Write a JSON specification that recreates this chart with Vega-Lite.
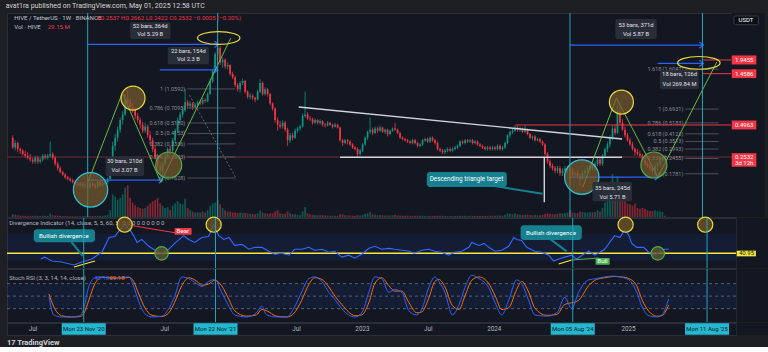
{
"$schema": "https://vega.github.io/schema/vega-lite/v6.json",
"background": "#1e1f23",
"padding": {"left": 5, "top": 2, "right": 0, "bottom": 0},
"title": {"text": "avat1ra published on TradingView.com, May 01, 2025 12:58 UTC", "anchor": "start", "fontSize": 7, "fontWeight": "normal", "color": "#d1d4dc", "font": "Roboto", "offset": 3},
"config": {"view": {"stroke": "#2a2e39", "fill": "#131722"}, "font": "Roboto", "text": {"font": "Roboto"}},
"datasets": {
 "vlines": [{"t":"2020-11-23","txt":"Mon 23 Nov '20"},{"t":"2021-11-22","txt":"Mon 22 Nov '21"},{"t":"2024-08-05","txt":"Mon 05 Aug '24"},{"t":"2025-08-11","txt":"Mon 11 Aug '25"}],
 "rfill": [{"a":"2025-11-01","b":"2026-02-01"}]
},
"spacing": 1,
"bounds": "flush",
"resolve": {"scale": {"x": "independent", "y": "independent"}},
"vconcat": [
{
 "width": 729, "height": 204,
 "data": {"values": "t,o,h,l,c,v\n2020-04-27,.38,.40,.30,.31,60\n2020-05-04,.31,.36,.29,.34,50\n2020-05-11,.34,.35,.28,.30,40\n2020-05-18,.30,.31,.27,.29,30\n2020-05-25,.29,.30,.26,.27,30\n2020-06-01,.27,.29,.25,.26,25\n2020-06-08,.26,.28,.24,.25,25\n2020-06-15,.25,.27,.23,.24,20\n2020-06-22,.24,.25,.22,.23,25\n2020-06-29,.23,.26,.22,.25,30\n2020-07-06,.25,.26,.22,.23,25\n2020-07-13,.23,.25,.22,.24,20\n2020-07-20,.24,.27,.23,.26,30\n2020-07-27,.26,.27,.24,.25,25\n2020-08-03,.25,.27,.24,.26,25\n2020-08-10,.26,.35,.25,.27,80\n2020-08-17,.27,.28,.24,.25,40\n2020-08-24,.25,.26,.21,.22,30\n2020-08-31,.22,.23,.19,.20,30\n2020-09-07,.20,.21,.18,.185,25\n2020-09-14,.185,.19,.17,.175,20\n2020-09-21,.175,.18,.16,.165,20\n2020-09-28,.165,.17,.155,.16,20\n2020-10-05,.16,.165,.15,.155,15\n2020-10-12,.155,.16,.145,.15,15\n2020-10-19,.15,.155,.14,.145,15\n2020-10-26,.145,.15,.135,.14,15\n2020-11-02,.14,.15,.135,.145,15\n2020-11-09,.145,.15,.132,.138,15\n2020-11-16,.138,.145,.13,.14,20\n2020-11-23,.14,.15,.13,.135,25\n2020-11-30,.135,.15,.13,.145,25\n2020-12-07,.145,.15,.135,.14,20\n2020-12-14,.14,.145,.13,.135,20\n2020-12-21,.135,.155,.13,.15,30\n2020-12-28,.15,.155,.135,.14,25\n2021-01-04,.14,.15,.135,.145,30\n2021-01-11,.145,.155,.14,.15,35\n2021-01-18,.15,.165,.145,.16,50\n2021-01-25,.16,.2,.155,.19,150\n2021-02-01,.19,.35,.185,.32,500\n2021-02-08,.32,.41,.29,.38,450\n2021-02-15,.38,.48,.35,.45,380\n2021-02-22,.45,.58,.42,.55,420\n2021-03-01,.55,.66,.5,.62,500\n2021-03-08,.62,.95,.6,.85,650\n2021-03-15,.85,1.02,.76,.8,700\n2021-03-22,.8,.86,.68,.72,420\n2021-03-29,.72,.78,.64,.68,320\n2021-04-05,.68,.72,.56,.6,260\n2021-04-12,.6,.64,.52,.55,220\n2021-04-19,.55,.58,.46,.5,200\n2021-04-26,.5,.53,.42,.44,180\n2021-05-03,.44,.52,.42,.48,200\n2021-05-10,.48,.5,.38,.4,250\n2021-05-17,.4,.44,.33,.36,300\n2021-05-24,.36,.38,.28,.3,350\n2021-05-31,.3,.32,.24,.25,380\n2021-06-07,.25,.27,.2,.21,420\n2021-06-14,.21,.23,.18,.19,300\n2021-06-21,.19,.23,.163,.22,250\n2021-06-28,.22,.27,.21,.26,200\n2021-07-05,.26,.31,.25,.3,220\n2021-07-12,.3,.32,.27,.29,150\n2021-07-19,.29,.38,.28,.36,250\n2021-07-26,.36,.46,.34,.44,300\n2021-08-02,.44,.58,.42,.55,350\n2021-08-09,.55,.65,.52,.62,300\n2021-08-16,.62,.72,.58,.68,280\n2021-08-23,.68,1.06,.65,.8,400\n2021-08-30,.8,.84,.7,.74,200\n2021-09-06,.74,.82,.7,.78,150\n2021-09-13,.78,.8,.68,.72,120\n2021-09-20,.72,.78,.69,.76,100\n2021-09-27,.76,.83,.73,.8,110\n2021-10-04,.8,.84,.75,.78,100\n2021-10-11,.78,.88,.76,.84,120\n2021-10-18,.84,.87,.79,.82,100\n2021-10-25,.82,.98,.8,.95,150\n2021-11-01,.95,1.32,.93,1.25,250\n2021-11-08,1.25,1.62,1.2,1.55,300\n2021-11-15,1.55,2.3,1.5,2.2,320\n2021-11-22,2.2,3.1,2.0,2.5,380\n2021-11-29,2.5,2.6,1.75,1.85,280\n2021-12-06,1.85,2.05,1.65,1.95,200\n2021-12-13,1.95,2.0,1.62,1.7,150\n2021-12-20,1.7,1.85,1.6,1.75,120\n2021-12-27,1.75,1.78,1.4,1.45,120\n2022-01-03,1.45,1.52,1.3,1.35,100\n2022-01-10,1.35,1.4,1.1,1.15,100\n2022-01-17,1.15,1.2,1.0,1.05,90\n2022-01-24,1.05,1.25,.98,1.2,100\n2022-01-31,1.2,1.32,1.15,1.25,90\n2022-02-07,1.25,1.28,.96,1.0,90\n2022-02-14,1.0,1.03,.86,.9,80\n2022-02-21,.9,.97,.85,.92,70\n2022-02-28,.92,.95,.84,.88,70\n2022-03-07,.88,.9,.8,.85,60\n2022-03-14,.85,1.04,.83,1.0,80\n2022-03-21,1.0,1.3,.97,1.2,150\n2022-03-28,1.2,1.24,.92,.95,100\n2022-04-04,.95,1.1,.92,1.05,80\n2022-04-11,1.05,1.08,.9,.95,70\n2022-04-18,.95,.97,.75,.78,80\n2022-04-25,.78,.8,.67,.7,80\n2022-05-02,.7,.72,.52,.55,120\n2022-05-09,.55,.58,.44,.5,150\n2022-05-16,.5,.54,.46,.48,80\n2022-05-23,.48,.55,.46,.52,70\n2022-05-30,.52,.54,.43,.45,70\n2022-06-06,.45,.47,.32,.36,120\n2022-06-13,.36,.42,.34,.4,80\n2022-06-20,.4,.42,.36,.38,60\n2022-06-27,.38,.46,.37,.44,60\n2022-07-04,.44,.48,.42,.46,50\n2022-07-11,.46,.5,.44,.48,50\n2022-07-18,.48,.63,.47,.6,120\n2022-07-25,.6,1.0,.58,.62,220\n2022-08-01,.62,.65,.55,.57,80\n2022-08-08,.57,.6,.54,.56,60\n2022-08-15,.56,.58,.5,.52,50\n2022-08-22,.52,.57,.51,.55,45\n2022-08-29,.55,.56,.5,.52,40\n2022-09-05,.52,.56,.5,.54,40\n2022-09-12,.54,.55,.48,.5,40\n2022-09-19,.5,.52,.47,.49,35\n2022-09-26,.49,.54,.48,.52,35\n2022-10-03,.52,.53,.49,.5,30\n2022-10-10,.5,.51,.46,.48,30\n2022-10-17,.48,.52,.47,.5,30\n2022-10-24,.5,.51,.46,.47,30\n2022-10-31,.47,.48,.35,.36,60\n2022-11-07,.36,.37,.32,.34,60\n2022-11-14,.34,.37,.33,.36,40\n2022-11-21,.36,.37,.33,.35,35\n2022-11-28,.35,.36,.32,.33,35\n2022-12-05,.33,.34,.3,.31,30\n2022-12-12,.31,.32,.29,.3,30\n2022-12-19,.3,.31,.25,.27,40\n2022-12-26,.27,.3,.26,.29,35\n2023-01-02,.29,.34,.28,.33,50\n2023-01-09,.33,.39,.32,.38,70\n2023-01-16,.38,.44,.36,.43,80\n2023-01-23,.43,.58,.41,.45,110\n2023-01-30,.45,.47,.4,.42,60\n2023-02-06,.42,.48,.41,.46,50\n2023-02-13,.46,.48,.42,.44,40\n2023-02-20,.44,.49,.43,.47,45\n2023-02-27,.47,.48,.42,.43,40\n2023-03-06,.43,.46,.41,.45,35\n2023-03-13,.45,.46,.39,.41,35\n2023-03-20,.41,.45,.4,.44,35\n2023-03-27,.44,.47,.43,.46,40\n2023-04-03,.46,.52,.44,.45,50\n2023-04-10,.45,.46,.41,.42,35\n2023-04-17,.42,.43,.37,.38,35\n2023-04-24,.38,.39,.36,.37,30\n2023-05-01,.37,.38,.35,.36,30\n2023-05-08,.36,.37,.34,.35,30\n2023-05-15,.35,.36,.33,.34,25\n2023-05-22,.34,.37,.33,.36,25\n2023-05-29,.36,.37,.33,.34,25\n2023-06-05,.34,.35,.31,.32,30\n2023-06-12,.32,.34,.31,.33,25\n2023-06-19,.33,.37,.32,.36,30\n2023-06-26,.36,.38,.35,.37,30\n2023-07-03,.37,.38,.34,.35,25\n2023-07-10,.35,.39,.34,.38,30\n2023-07-17,.38,.39,.35,.36,25\n2023-07-24,.36,.37,.33,.34,25\n2023-07-31,.34,.35,.29,.3,30\n2023-08-07,.3,.31,.28,.29,25\n2023-08-14,.29,.3,.27,.28,25\n2023-08-21,.28,.3,.27,.29,20\n2023-08-28,.29,.31,.28,.3,20\n2023-09-04,.3,.31,.28,.29,20\n2023-09-11,.29,.31,.28,.3,20\n2023-09-18,.3,.32,.29,.31,20\n2023-09-25,.31,.33,.3,.32,25\n2023-10-02,.32,.36,.31,.35,30\n2023-10-09,.35,.36,.33,.34,25\n2023-10-16,.34,.37,.33,.36,25\n2023-10-23,.36,.37,.34,.35,20\n2023-10-30,.35,.37,.34,.36,25\n2023-11-06,.36,.37,.33,.34,25\n2023-11-13,.34,.36,.33,.35,25\n2023-11-20,.35,.36,.32,.33,25\n2023-11-27,.33,.34,.31,.32,25\n2023-12-04,.32,.33,.3,.31,25\n2023-12-11,.31,.32,.29,.3,25\n2023-12-18,.3,.32,.29,.31,25\n2023-12-25,.31,.32,.29,.3,25\n2024-01-01,.3,.32,.29,.31,30\n2024-01-08,.31,.32,.29,.3,30\n2024-01-15,.3,.33,.29,.32,35\n2024-01-22,.32,.33,.29,.3,35\n2024-01-29,.3,.32,.29,.31,30\n2024-02-05,.31,.35,.3,.34,50\n2024-02-12,.34,.41,.33,.4,80\n2024-02-19,.4,.44,.38,.43,70\n2024-02-26,.43,.46,.41,.44,60\n2024-03-04,.44,.5,.43,.47,80\n2024-03-11,.47,.49,.43,.45,60\n2024-03-18,.45,.48,.43,.46,50\n2024-03-25,.46,.47,.42,.43,45\n2024-04-01,.43,.49,.42,.45,50\n2024-04-08,.45,.46,.4,.41,50\n2024-04-15,.41,.42,.37,.38,45\n2024-04-22,.38,.4,.36,.39,40\n2024-04-29,.39,.4,.35,.36,45\n2024-05-06,.36,.38,.35,.37,40\n2024-05-13,.37,.38,.34,.35,40\n2024-05-20,.35,.36,.32,.33,45\n2024-05-27,.33,.34,.26,.27,70\n2024-06-03,.27,.28,.22,.23,80\n2024-06-10,.23,.24,.2,.21,70\n2024-06-17,.21,.22,.19,.2,60\n2024-06-24,.2,.21,.18,.19,60\n2024-07-01,.19,.21,.18,.2,70\n2024-07-08,.2,.21,.17,.18,80\n2024-07-15,.18,.2,.17,.19,80\n2024-07-22,.19,.21,.18,.2,90\n2024-07-29,.2,.21,.18,.2,100\n2024-08-05,.2,.21,.16,.19,150\n2024-08-12,.19,.2,.17,.175,100\n2024-08-19,.175,.19,.17,.18,90\n2024-08-26,.18,.19,.16,.17,90\n2024-09-02,.17,.18,.14,.16,120\n2024-09-09,.16,.19,.155,.18,110\n2024-09-16,.18,.2,.17,.19,100\n2024-09-23,.19,.21,.18,.2,100\n2024-09-30,.2,.22,.19,.21,110\n2024-10-07,.21,.22,.19,.2,100\n2024-10-14,.2,.23,.19,.22,110\n2024-10-21,.22,.25,.21,.24,150\n2024-10-28,.24,.25,.21,.22,120\n2024-11-04,.22,.27,.21,.26,200\n2024-11-11,.26,.31,.25,.3,320\n2024-11-18,.3,.35,.28,.33,450\n2024-11-25,.33,.4,.31,.38,600\n2024-12-02,.38,.49,.36,.46,950\n2024-12-09,.46,.5,.4,.42,550\n2024-12-16,.42,.75,.41,.66,900\n2024-12-23,.66,.72,.5,.52,750\n2024-12-30,.52,.56,.44,.45,450\n2025-01-06,.45,.48,.38,.4,350\n2025-01-13,.4,.42,.35,.36,300\n2025-01-20,.36,.38,.32,.33,280\n2025-01-27,.33,.35,.29,.3,250\n2025-02-03,.3,.31,.26,.28,300\n2025-02-10,.28,.3,.26,.27,200\n2025-02-17,.27,.29,.25,.26,180\n2025-02-24,.26,.27,.23,.24,200\n2025-03-03,.24,.26,.21,.22,180\n2025-03-10,.22,.23,.2,.21,150\n2025-03-17,.21,.22,.19,.2,130\n2025-03-24,.2,.21,.18,.19,130\n2025-03-31,.19,.22,.178,.21,150\n2025-04-07,.21,.23,.19,.22,130\n2025-04-14,.22,.25,.21,.24,120\n2025-04-21,.24,.26,.23,.2537,110\n2025-04-28,.2537,.2662,.2422,.2532,29", "format": {"type": "csv", "parse": {"t": "date", "o": "number", "h": "number", "l": "number", "c": "number", "v": "number"}}},
 "layer": [
  {"mark": {"type": "bar", "width": 1.7, "opacity": 0.5},
   "encoding": {"x": {"field": "t", "type": "temporal", "scale": {"domain": [1587772800000, 1761782400000]}, "axis": null},
    "y": {"field": "v", "type": "quantitative", "scale": {"domain": [0, 4500]}, "axis": null},
    "color": {"condition": {"test": "datum.c >= datum.o", "value": "#089981"}, "value": "#f23645"}}},
  {"layer": [
   {"data": {"name": "rfill"}, "mark": {"type": "rect", "color": "#131722"},
    "encoding": {"x": {"field": "a", "type": "temporal", "scale": {"domain": [1587772800000, 1761782400000]}, "axis": null}, "x2": {"field": "b"}}},
   {"data": {"values": [{"p": 0.2532}]}, "mark": {"type": "rule", "color": "#6e2b35", "strokeWidth": 1},
    "encoding": {"y": {"field": "p", "type": "quantitative", "scale": {"type": "log", "domain": [0.0718, 5.22]},
     "axis": {"orient": "right", "values": [0.085, 0.12, 0.17, 0.4, 0.55, 0.8, 1.1, 1.7, 2.5, 3.5], "format": ".4f", "grid": false, "ticks": false, "domain": false, "labelColor": "#b2b5be", "labelFontSize": 6.5, "labelFont": "Roboto", "labelPadding": 4, "labelOverlap": false, "labelFlush": false, "title": null, "zindex": 1}}}},
   {"mark": {"type": "rule", "strokeWidth": 0.8},
    "encoding": {"x": {"field": "t", "type": "temporal", "scale": {"domain": [1587772800000, 1761782400000]}, "axis": null},
     "y": {"field": "l", "type": "quantitative", "scale": {"type": "log", "domain": [0.0718, 5.22]}, "axis": null}, "y2": {"field": "h"},
     "color": {"condition": {"test": "datum.c >= datum.o", "value": "#089981"}, "value": "#f23645"}}},
   {"mark": {"type": "bar", "width": 1.7},
    "encoding": {"x": {"field": "t", "type": "temporal", "scale": {"domain": [1587772800000, 1761782400000]}, "axis": null},
     "y": {"field": "o", "type": "quantitative", "scale": {"type": "log", "domain": [0.0718, 5.22]}, "axis": null}, "y2": {"field": "c"},
     "color": {"condition": {"test": "datum.c >= datum.o", "value": "#089981"}, "value": "#f23645"}}},
   {"data": {"values": [
     {"s":"2021-08-29","e":"2022-01-11","p":1.0592,"lab":"1 (1.0592)"},
     {"s":"2021-08-29","e":"2022-01-11","p":0.7095,"lab":"0.786 (0.7095)"},
     {"s":"2021-08-29","e":"2022-01-11","p":0.518,"lab":"0.618 (0.5180)"},
     {"s":"2021-08-29","e":"2022-01-11","p":0.4153,"lab":"0.5 (0.4153)"},
     {"s":"2021-08-29","e":"2022-01-11","p":0.3336,"lab":"0.382 (0.3336)"},
     {"s":"2021-08-29","e":"2022-01-11","p":0.2533,"lab":"0.236 (0.2533)"},
     {"s":"2021-08-29","e":"2022-01-11","p":0.1628,"lab":"0 (0.1628)"},
     {"s":"2025-06-24","e":"2025-09-25","p":1.6047,"lab":"1.618 (1.6047)"},
     {"s":"2025-06-24","e":"2025-09-25","p":0.6931,"lab":"1 (0.6931)"},
     {"s":"2025-06-24","e":"2025-09-25","p":0.5183,"lab":"0.786 (0.5183)"},
     {"s":"2025-06-24","e":"2025-09-25","p":0.4123,"lab":"0.618 (0.4123)"},
     {"s":"2025-06-24","e":"2025-09-25","p":0.3513,"lab":"0.5 (0.3513)"},
     {"s":"2025-06-24","e":"2025-09-25","p":0.2993,"lab":"0.382 (0.2993)"},
     {"s":"2025-06-24","e":"2025-09-25","p":0.2455,"lab":"0.236 (0.2455)"},
     {"s":"2025-06-24","e":"2025-09-25","p":0.1781,"lab":"0 (0.1781)"}]},
    "layer": [
     {"mark": {"type": "rule", "color": "#5d606b", "strokeWidth": 0.8},
      "encoding": {"x": {"field": "s", "type": "temporal", "scale": {"domain": [1587772800000, 1761782400000]}, "axis": null}, "x2": {"field": "e"},
       "y": {"field": "p", "type": "quantitative", "scale": {"type": "log", "domain": [0.0718, 5.22]}, "axis": null}}},
     {"mark": {"type": "text", "align": "right", "baseline": "middle", "dx": -2, "fontSize": 5.5, "color": "#8a8d96"},
      "encoding": {"x": {"field": "s", "type": "temporal", "scale": {"domain": [1587772800000, 1761782400000]}, "axis": null},
       "y": {"field": "p", "type": "quantitative", "scale": {"type": "log", "domain": [0.0718, 5.22]}, "axis": null}, "text": {"field": "lab"}}}
    ]},
   {"data": {"values": [{"s":"2021-09-04","e":"2022-01-11","p1":0.93,"p2":0.166}]},
    "mark": {"type": "rule", "color": "#787b86", "strokeWidth": 0.8, "strokeDash": [2, 2]},
    "encoding": {"x": {"field": "s", "type": "temporal", "scale": {"domain": [1587772800000, 1761782400000]}, "axis": null}, "x2": {"field": "e"},
     "y": {"field": "p1", "type": "quantitative", "scale": {"type": "log", "domain": [0.0718, 5.22]}, "axis": null}, "y2": {"field": "p2"}}},
   {"data": {"values": [{"s":"2024-03-06","e":"2025-10-30","p":0.4963},{"s":"2025-08-11","e":"2025-10-30","p":1.9455},{"s":"2025-08-11","e":"2025-10-30","p":1.4586}]},
    "mark": {"type": "rule", "color": "#f23645", "strokeWidth": 1},
    "encoding": {"x": {"field": "s", "type": "temporal", "scale": {"domain": [1587772800000, 1761782400000]}, "axis": null}, "x2": {"field": "e"},
     "y": {"field": "p", "type": "quantitative", "scale": {"type": "log", "domain": [0.0718, 5.22]}, "axis": null}}},
   {"data": {"values": [{"s":"2022-07-07","e":"2024-12-29","p1":0.724,"p2":0.37},{"s":"2022-10-31","e":"2024-12-29","p1":0.252,"p2":0.252},{"s":"2024-05-25","e":"2024-05-25","p1":0.252,"p2":0.098}]},
    "mark": {"type": "rule", "color": "#d1d4dc", "strokeWidth": 1.4},
    "encoding": {"x": {"field": "s", "type": "temporal", "scale": {"domain": [1587772800000, 1761782400000]}, "axis": null}, "x2": {"field": "e"},
     "y": {"field": "p1", "type": "quantitative", "scale": {"type": "log", "domain": [0.0718, 5.22]}, "axis": null}, "y2": {"field": "p2"}}},
   {"data": {"values": [{"s":"2020-11-23","e":"2021-11-22","p":2.7},{"s":"2021-06-13","e":"2021-11-20","p":1.58},{"s":"2020-11-23","e":"2021-06-19","p":0.156},{"s":"2024-08-05","e":"2025-08-11","p":2.66},{"s":"2025-04-08","e":"2025-08-11","p":1.81},{"s":"2024-08-05","e":"2025-04-08","p":0.166}]},
    "layer": [
     {"mark": {"type": "rule", "color": "#2962ff", "strokeWidth": 1.3},
      "encoding": {"x": {"field": "s", "type": "temporal", "scale": {"domain": [1587772800000, 1761782400000]}, "axis": null}, "x2": {"field": "e"},
       "y": {"field": "p", "type": "quantitative", "scale": {"type": "log", "domain": [0.0718, 5.22]}, "axis": null}}},
     {"mark": {"type": "point", "shape": "M-1,-1L0.3,0L-1,1", "size": 40, "filled": false, "stroke": "#2962ff", "strokeWidth": 1.3, "opacity": 1},
      "encoding": {"x": {"field": "e", "type": "temporal", "scale": {"domain": [1587772800000, 1761782400000]}, "axis": null},
       "y": {"field": "p", "type": "quantitative", "scale": {"type": "log", "domain": [0.0718, 5.22]}, "axis": null}}}
    ]},
   {"data": {"values": [
     {"g":1,"i":1,"t":"2020-11-23","p":0.147},{"g":1,"i":2,"t":"2021-02-28","p":0.972},{"g":1,"i":3,"t":"2021-06-16","p":0.149},{"g":1,"i":4,"t":"2021-12-29","p":3.09},
     {"g":2,"i":1,"t":"2024-09-10","p":0.135},{"g":2,"i":2,"t":"2024-12-13","p":0.875},{"g":2,"i":3,"t":"2025-04-08","p":0.166},{"g":2,"i":4,"t":"2025-09-20","p":1.86}]},
    "mark": {"type": "line", "color": "#66bb44", "strokeWidth": 1},
    "encoding": {"x": {"field": "t", "type": "temporal", "scale": {"domain": [1587772800000, 1761782400000]}, "axis": null},
     "y": {"field": "p", "type": "quantitative", "scale": {"type": "log", "domain": [0.0718, 5.22]}, "axis": null},
     "detail": {"field": "g"}, "order": {"field": "i"}}},
   {"data": {"name": "vlines"}, "mark": {"type": "rule", "color": "#22a5b8", "strokeWidth": 1},
    "encoding": {"x": {"field": "t", "type": "temporal", "scale": {"domain": [1587772800000, 1761782400000]}, "axis": null}}},
   {"data": {"values": [{"t":"2020-12-01","p":0.127},{"t":"2024-09-07","p":0.166}]},
    "mark": {"type": "point", "shape": "circle", "size": 1180, "filled": true, "fill": "#7a5c2e", "fillOpacity": 0.7, "stroke": "#2bc4d6", "strokeWidth": 1.2, "opacity": 1},
    "encoding": {"x": {"field": "t", "type": "temporal", "scale": {"domain": [1587772800000, 1761782400000]}, "axis": null},
     "y": {"field": "p", "type": "quantitative", "scale": {"type": "log", "domain": [0.0718, 5.22]}, "axis": null}}},
   {"data": {"values": [{"t":"2021-03-30","p":0.874},{"t":"2024-12-27","p":0.804}]},
    "mark": {"type": "point", "shape": "circle", "size": 576, "filled": true, "fill": "#7a5c2e", "fillOpacity": 0.7, "stroke": "#e8d83a", "strokeWidth": 1.2, "opacity": 1},
    "encoding": {"x": {"field": "t", "type": "temporal", "scale": {"domain": [1587772800000, 1761782400000]}, "axis": null},
     "y": {"field": "p", "type": "quantitative", "scale": {"type": "log", "domain": [0.0718, 5.22]}, "axis": null}}},
   {"data": {"values": [{"t":"2021-07-08","p":0.214},{"t":"2025-03-28","p":0.214}]},
    "mark": {"type": "point", "shape": "circle", "size": 676, "filled": true, "fill": "#7a5c2e", "fillOpacity": 0.7, "stroke": "#4caf50", "strokeWidth": 1.2, "opacity": 1},
    "encoding": {"x": {"field": "t", "type": "temporal", "scale": {"domain": [1587772800000, 1761782400000]}, "axis": null},
     "y": {"field": "p", "type": "quantitative", "scale": {"type": "log", "domain": [0.0718, 5.22]}, "axis": null}}},
   {"data": {"values": [{"t":"2021-11-25","p":3.09},{"t":"2025-08-01","p":1.83}]},
    "mark": {"type": "point", "shape": "M-1,0A1,0.3,0,1,0,1,0A1,0.3,0,1,0,-1,0Z", "size": 1800, "filled": false, "stroke": "#e8d83a", "strokeWidth": 1.2, "opacity": 1},
    "encoding": {"x": {"field": "t", "type": "temporal", "scale": {"domain": [1587772800000, 1761782400000]}, "axis": null},
     "y": {"field": "p", "type": "quantitative", "scale": {"type": "log", "domain": [0.0718, 5.22]}, "axis": null}}},
   {"data": {"values": [
     {"s":"2021-03-22","e":"2021-07-13","p1":4.3,"p2":3.03},
     {"s":"2021-07-05","e":"2021-10-29","p1":2.55,"p2":1.78},
     {"s":"2021-01-12","e":"2021-04-30","p1":0.258,"p2":0.17},
     {"s":"2024-12-10","e":"2025-04-05","p1":4.6,"p2":3.03},
     {"s":"2025-04-14","e":"2025-08-01","p1":1.58,"p2":1.05},
     {"s":"2024-10-07","e":"2025-01-26","p1":0.15,"p2":0.1}]},
    "mark": {"type": "rect", "color": "#2a2e39", "opacity": 0.95, "cornerRadius": 2},
    "encoding": {"x": {"field": "s", "type": "temporal", "scale": {"domain": [1587772800000, 1761782400000]}, "axis": null}, "x2": {"field": "e"},
     "y": {"field": "p1", "type": "quantitative", "scale": {"type": "log", "domain": [0.0718, 5.22]}, "axis": null}, "y2": {"field": "p2"}}},
   {"data": {"values": [
     {"t":"2021-05-17","p":3.95,"txt":"52 bars, 364d"},{"t":"2021-05-17","p":3.36,"txt":"Vol 5.29 B"},
     {"t":"2021-09-01","p":2.37,"txt":"22 bars, 154d"},{"t":"2021-09-01","p":2.0,"txt":"Vol 2.3 B"},
     {"t":"2021-03-06","p":0.235,"txt":"30 bars, 210d"},{"t":"2021-03-06","p":0.193,"txt":"Vol 3.07 B"},
     {"t":"2025-02-06","p":4.05,"txt":"53 bars, 371d"},{"t":"2025-02-06","p":3.38,"txt":"Vol 5.87 B"},
     {"t":"2025-06-08","p":1.45,"txt":"18 bars, 126d"},{"t":"2025-06-08","p":1.17,"txt":"Vol 269.84 M"},
     {"t":"2024-12-02","p":0.133,"txt":"35 bars, 245d"},{"t":"2024-12-02","p":0.11,"txt":"Vol 5.71 B"}]},
    "mark": {"type": "text", "align": "center", "baseline": "middle", "fontSize": 5.8, "color": "#e0e3eb"},
    "encoding": {"x": {"field": "t", "type": "temporal", "scale": {"domain": [1587772800000, 1761782400000]}, "axis": null},
     "y": {"field": "p", "type": "quantitative", "scale": {"type": "log", "domain": [0.0718, 5.22]}, "axis": null}, "text": {"field": "txt"}}},
   {"data": {"values": [{"s":"2023-12-25","e":"2024-05-20","p1":0.14,"p2":0.117}]},
    "mark": {"type": "rule", "color": "#16808f", "strokeWidth": 2},
    "encoding": {"x": {"field": "s", "type": "temporal", "scale": {"domain": [1587772800000, 1761782400000]}, "axis": null}, "x2": {"field": "e"},
     "y": {"field": "p1", "type": "quantitative", "scale": {"type": "log", "domain": [0.0718, 5.22]}, "axis": null}, "y2": {"field": "p2"}}},
   {"data": {"values": [{"s":"2023-07-01","e":"2024-02-10","p1":0.185,"p2":0.135}]},
    "mark": {"type": "rect", "color": "#16808f", "cornerRadius": 3},
    "encoding": {"x": {"field": "s", "type": "temporal", "scale": {"domain": [1587772800000, 1761782400000]}, "axis": null}, "x2": {"field": "e"},
     "y": {"field": "p1", "type": "quantitative", "scale": {"type": "log", "domain": [0.0718, 5.22]}, "axis": null}, "y2": {"field": "p2"}}},
   {"data": {"values": [{"t":"2023-10-20","p":0.158,"txt":"Descending triangle target"}]},
    "mark": {"type": "text", "align": "center", "baseline": "middle", "fontSize": 6.3, "color": "#ffffff"},
    "encoding": {"x": {"field": "t", "type": "temporal", "scale": {"domain": [1587772800000, 1761782400000]}, "axis": null},
     "y": {"field": "p", "type": "quantitative", "scale": {"type": "log", "domain": [0.0718, 5.22]}, "axis": null}, "text": {"field": "txt"}}},
   {"data": {"values": [{"t":"2020-05-01","p":4.7,"txt":"HIVE / TetherUS · 1W · BINANCE"},{"t":"2020-05-01","p":3.89,"txt":"Vol · HIVE"}]},
    "mark": {"type": "text", "align": "left", "baseline": "middle", "fontSize": 6.1, "color": "#c3c6ce"},
    "encoding": {"x": {"field": "t", "type": "temporal", "scale": {"domain": [1587772800000, 1761782400000]}, "axis": null},
     "y": {"field": "p", "type": "quantitative", "scale": {"type": "log", "domain": [0.0718, 5.22]}, "axis": null}, "text": {"field": "txt"}}},
   {"data": {"values": [{"t":"2020-12-18","p":4.7,"txt":"O0.2537  H0.2662  L0.2422  C0.2532  −0.0005 (−0.20%)"},{"t":"2020-08-03","p":3.89,"txt":"29.15 M"}]},
    "mark": {"type": "text", "align": "left", "baseline": "middle", "fontSize": 6.1, "color": "#f23645"},
    "encoding": {"x": {"field": "t", "type": "temporal", "scale": {"domain": [1587772800000, 1761782400000]}, "axis": null},
     "y": {"field": "p", "type": "quantitative", "scale": {"type": "log", "domain": [0.0718, 5.22]}, "axis": null}, "text": {"field": "txt"}}},
   {"data": {"values": [{"a":"2025-11-01","b":"2026-01-09","p1":2.14,"p2":1.77},{"a":"2025-11-01","b":"2026-01-09","p1":1.6,"p2":1.33},{"a":"2025-11-01","b":"2026-01-09","p1":0.545,"p2":0.452},{"a":"2025-11-01","b":"2026-01-09","p1":0.2745,"p2":0.2065}]},
    "mark": {"type": "rect", "color": "#f23645"},
    "encoding": {"x": {"field": "a", "type": "temporal", "scale": {"domain": [1587772800000, 1761782400000]}, "axis": null}, "x2": {"field": "b"},
     "y": {"field": "p1", "type": "quantitative", "scale": {"type": "log", "domain": [0.0718, 5.22]}, "axis": null}, "y2": {"field": "p2"}}},
   {"data": {"values": [{"a":"2025-11-07","b":"2026-01-15","p1":4.9,"p2":4.08}]},
    "mark": {"type": "rect", "color": "#0c0e15", "stroke": "#434651", "strokeWidth": 0.8, "cornerRadius": 2},
    "encoding": {"x": {"field": "a", "type": "temporal", "scale": {"domain": [1587772800000, 1761782400000]}, "axis": null}, "x2": {"field": "b"},
     "y": {"field": "p1", "type": "quantitative", "scale": {"type": "log", "domain": [0.0718, 5.22]}, "axis": null}, "y2": {"field": "p2"}}},
   {"data": {"values": [{"t":"2025-12-06","p":1.9455,"txt":"1.9455"},{"t":"2025-12-06","p":1.4586,"txt":"1.4586"},{"t":"2025-12-06","p":0.4963,"txt":"0.4963"},{"t":"2025-12-06","p":0.2555,"txt":"0.2532"},{"t":"2025-12-06","p":0.2235,"txt":"3d 12h"},{"t":"2025-12-11","p":4.47,"txt":"USDT"}]},
    "mark": {"type": "text", "align": "center", "baseline": "middle", "fontSize": 6, "color": "#ffffff"},
    "encoding": {"x": {"field": "t", "type": "temporal", "scale": {"domain": [1587772800000, 1761782400000]}, "axis": null},
     "y": {"field": "p", "type": "quantitative", "scale": {"type": "log", "domain": [0.0718, 5.22]}, "axis": null}, "text": {"field": "txt"}}}
  ]}
 ],
 "resolve": {"scale": {"y": "independent"}}
},
{
 "width": 729, "height": 50,
 "layer": [
  {"data": {"name": "rfill"}, "mark": {"type": "rect", "color": "#131722"},
   "encoding": {"x": {"field": "a", "type": "temporal", "scale": {"domain": [1587772800000, 1761782400000]}, "axis": null}, "x2": {"field": "b"}}},
  {"data": {"values": [{"a": 30, "b": 70}]}, "mark": {"type": "rect", "color": "#2962ff", "opacity": 0.09},
   "encoding": {"y": {"field": "a", "type": "quantitative", "scale": {"domain": [19, 94]},
     "axis": {"orient": "right", "values": [25, 50, 75], "format": ".2f", "grid": false, "ticks": false, "domain": false, "labelColor": "#b2b5be", "labelFontSize": 6.5, "labelFont": "Roboto", "labelPadding": 4, "labelOverlap": false, "labelFlush": false, "title": null, "zindex": 1}},
    "y2": {"field": "b"}}},
  {"data": {"values": [{"v": 40.95}]}, "mark": {"type": "rule", "color": "#f7e73b", "strokeWidth": 1.5},
   "encoding": {"y": {"field": "v", "type": "quantitative", "scale": {"domain": [19, 94]}, "axis": null}}},
  {"data": {"values": "t,v\n2020-07-27,32.4\n2020-08-07,35.3\n2020-08-27,29.4\n2020-09-23,27.9\n2020-10-27,23.5\n2020-11-18,27.9\n2020-12-15,32.4\n2021-01-12,42.6\n2021-02-01,64.7\n2021-02-17,66.2\n2021-03-03,76.5\n2021-03-16,85.3\n2021-03-30,76.5\n2021-04-10,67.6\n2021-04-19,57.4\n2021-05-02,61.8\n2021-05-22,51.5\n2021-06-13,44.1\n2021-06-26,41.2\n2021-07-16,47.1\n2021-08-01,55.9\n2021-08-26,67.6\n2021-09-09,61.8\n2021-09-26,57.4\n2021-10-15,64.7\n2021-11-03,66.2\n2021-11-17,83.8\n2021-12-01,67.6\n2021-12-15,61.8\n2021-12-29,64.7\n2022-01-14,52.9\n2022-02-03,54.4\n2022-02-22,47.1\n2022-03-11,50\n2022-03-30,50\n2022-04-18,44.1\n2022-05-05,39.7\n2022-05-24,41.2\n2022-06-13,38.2\n2022-06-29,47.1\n2022-07-18,47.1\n2022-08-07,50\n2022-08-23,45.6\n2022-09-12,47.1\n2022-10-01,42.6\n2022-10-18,44.1\n2022-11-06,35.3\n2022-11-25,38.2\n2022-12-12,33.8\n2022-12-31,39.7\n2023-01-20,48.5\n2023-02-05,51.5\n2023-02-24,47.1\n2023-03-16,48.5\n2023-04-01,47.1\n2023-04-21,45.6\n2023-05-10,44.1\n2023-05-26,41.2\n2023-06-15,45.6\n2023-07-04,47.1\n2023-07-21,44.1\n2023-08-09,42.6\n2023-08-28,38.2\n2023-09-14,42.6\n2023-10-03,44.1\n2023-10-23,50\n2023-10-31,57.4\n2023-11-20,52.9\n2023-12-04,55.9\n2023-12-17,50\n2024-01-03,44.1\n2024-01-22,45.6\n2024-02-10,51.5\n2024-02-24,64.7\n2024-03-03,61.8\n2024-03-17,60.3\n2024-03-31,50\n2024-04-22,44.1\n2024-05-11,42.6\n2024-05-31,38.2\n2024-06-13,29.4\n2024-06-27,32.4\n2024-07-14,35.3\n2024-08-02,38.2\n2024-08-16,32.4\n2024-09-04,39.7\n2024-09-18,44.1\n2024-10-05,38.2\n2024-10-19,42.6\n2024-11-01,47.1\n2024-11-15,57.4\n2024-11-29,67.6\n2024-12-13,64.7\n2024-12-27,76.5\n2025-01-07,67.6\n2025-01-15,55.9\n2025-01-29,50\n2025-02-17,50\n2025-03-03,42.6\n2025-03-20,38.2\n2025-04-02,44.1\n2025-04-16,47.1\n2025-04-27,47.1", "format": {"type": "csv", "parse": {"t": "date", "v": "number"}}},
   "mark": {"type": "line", "color": "#2f6bff", "strokeWidth": 1.1},
   "encoding": {"x": {"field": "t", "type": "temporal", "scale": {"domain": [1587772800000, 1761782400000]}, "axis": null},
    "y": {"field": "v", "type": "quantitative", "scale": {"domain": [19, 94]}, "axis": null}}},
  {"data": {"values": [{"s":"2020-10-27","e":"2020-12-24","v1":20.5,"v2":29.5},{"s":"2024-06-27","e":"2024-08-02","v1":25,"v2":31}]},
   "mark": {"type": "rule", "color": "#f7e73b", "strokeWidth": 1.3},
   "encoding": {"x": {"field": "s", "type": "temporal", "scale": {"domain": [1587772800000, 1761782400000]}, "axis": null}, "x2": {"field": "e"},
    "y": {"field": "v1", "type": "quantitative", "scale": {"domain": [19, 94]}, "axis": null}, "y2": {"field": "v2"}}},
  {"data": {"values": [{"s":"2021-03-26","e":"2021-08-07","v1":83.5,"v2":71.5}]},
   "mark": {"type": "rule", "color": "#f23645", "strokeWidth": 1.1},
   "encoding": {"x": {"field": "s", "type": "temporal", "scale": {"domain": [1587772800000, 1761782400000]}, "axis": null}, "x2": {"field": "e"},
    "y": {"field": "v1", "type": "quantitative", "scale": {"domain": [19, 94]}, "axis": null}, "y2": {"field": "v2"}}},
  {"data": {"values": [{"s":"2024-08-02","e":"2024-10-16","v1":31,"v2":34}]},
   "mark": {"type": "rule", "color": "#4caf50", "strokeWidth": 1.1},
   "encoding": {"x": {"field": "s", "type": "temporal", "scale": {"domain": [1587772800000, 1761782400000]}, "axis": null}, "x2": {"field": "e"},
    "y": {"field": "v1", "type": "quantitative", "scale": {"domain": [19, 94]}, "axis": null}, "y2": {"field": "v2"}}},
  {"data": {"values": [{"s":"2021-08-01","e":"2021-09-17","v1":79,"v2":69}]},
   "mark": {"type": "rect", "color": "#f23645", "cornerRadius": 1},
   "encoding": {"x": {"field": "s", "type": "temporal", "scale": {"domain": [1587772800000, 1761782400000]}, "axis": null}, "x2": {"field": "e"},
    "y": {"field": "v1", "type": "quantitative", "scale": {"domain": [19, 94]}, "axis": null}, "y2": {"field": "v2"}}},
  {"data": {"values": [{"s":"2024-10-07","e":"2024-11-15","v1":34,"v2":24}]},
   "mark": {"type": "rect", "color": "#4caf50", "cornerRadius": 1},
   "encoding": {"x": {"field": "s", "type": "temporal", "scale": {"domain": [1587772800000, 1761782400000]}, "axis": null}, "x2": {"field": "e"},
    "y": {"field": "v1", "type": "quantitative", "scale": {"domain": [19, 94]}, "axis": null}, "y2": {"field": "v2"}}},
  {"data": {"values": [{"s":"2020-10-20","e":"2020-11-20","v1":58,"v2":37},{"s":"2024-06-05","e":"2024-07-19","v1":62,"v2":44}]},
   "mark": {"type": "rule", "color": "#16808f", "strokeWidth": 2},
   "encoding": {"x": {"field": "s", "type": "temporal", "scale": {"domain": [1587772800000, 1761782400000]}, "axis": null}, "x2": {"field": "e"},
    "y": {"field": "v1", "type": "quantitative", "scale": {"domain": [19, 94]}, "axis": null}, "y2": {"field": "v2"}}},
  {"data": {"values": [{"s":"2020-07-08","e":"2020-12-24","v1":77,"v2":57.5},{"s":"2024-03-14","e":"2024-08-30","v1":83,"v2":61}]},
   "mark": {"type": "rect", "color": "#16808f", "cornerRadius": 3},
   "encoding": {"x": {"field": "s", "type": "temporal", "scale": {"domain": [1587772800000, 1761782400000]}, "axis": null}, "x2": {"field": "e"},
    "y": {"field": "v1", "type": "quantitative", "scale": {"domain": [19, 94]}, "axis": null}, "y2": {"field": "v2"}}},
  {"data": {"values": [{"t":"2020-09-29","v":67.2,"txt":"Bullish divergence"},{"t":"2024-06-06","v":72,"txt":"Bullish divergence"},{"t":"2021-08-24","v":74,"txt":"Bear"},{"t":"2024-10-26","v":29,"txt":"Bull"}]},
   "mark": {"type": "text", "align": "center", "baseline": "middle", "fontSize": 6.2, "color": "#ffffff"},
   "encoding": {"x": {"field": "t", "type": "temporal", "scale": {"domain": [1587772800000, 1761782400000]}, "axis": null},
    "y": {"field": "v", "type": "quantitative", "scale": {"domain": [19, 94]}, "axis": null}, "text": {"field": "txt"}}},
  {"data": {"values": [{"t":"2020-05-01","v":87,"txt":"Divergence Indicator (14, close, 5, 5, 60, 5)   0  0  0  0  0  0  0  0  0"}]},
   "mark": {"type": "text", "align": "left", "baseline": "middle", "fontSize": 6, "color": "#b2b5be"},
   "encoding": {"x": {"field": "t", "type": "temporal", "scale": {"domain": [1587772800000, 1761782400000]}, "axis": null},
    "y": {"field": "v", "type": "quantitative", "scale": {"domain": [19, 94]}, "axis": null}, "text": {"field": "txt"}}},
  {"data": {"values": [{"t":"2021-03-16","v":84},{"t":"2021-11-17","v":84},{"t":"2024-12-29","v":84},{"t":"2025-08-06","v":84}]},
   "mark": {"type": "point", "shape": "circle", "size": 230, "filled": true, "fill": "#6e5426", "fillOpacity": 0.8, "stroke": "#e8d83a", "strokeWidth": 1.2, "opacity": 1},
   "encoding": {"x": {"field": "t", "type": "temporal", "scale": {"domain": [1587772800000, 1761782400000]}, "axis": null},
    "y": {"field": "v", "type": "quantitative", "scale": {"domain": [19, 94]}, "axis": null}}},
  {"data": {"values": [{"t":"2021-06-26","v":41},{"t":"2025-03-28","v":41}]},
   "mark": {"type": "point", "shape": "circle", "size": 180, "filled": true, "fill": "#5e5a2a", "fillOpacity": 0.8, "stroke": "#4caf50", "strokeWidth": 1.2, "opacity": 1},
   "encoding": {"x": {"field": "t", "type": "temporal", "scale": {"domain": [1587772800000, 1761782400000]}, "axis": null},
    "y": {"field": "v", "type": "quantitative", "scale": {"domain": [19, 94]}, "axis": null}}},
  {"data": {"name": "vlines"}, "mark": {"type": "rule", "color": "#22a5b8", "strokeWidth": 1},
   "encoding": {"x": {"field": "t", "type": "temporal", "scale": {"domain": [1587772800000, 1761782400000]}, "axis": null}}},
  {"data": {"values": [{"a":"2025-11-01","b":"2025-12-24","v1":45,"v2":36.5}]},
   "mark": {"type": "rect", "color": "#f7e73b"},
   "encoding": {"x": {"field": "a", "type": "temporal", "scale": {"domain": [1587772800000, 1761782400000]}, "axis": null}, "x2": {"field": "b"},
    "y": {"field": "v1", "type": "quantitative", "scale": {"domain": [19, 94]}, "axis": null}, "y2": {"field": "v2"}}},
  {"data": {"values": [{"t":"2025-11-28","v":40.95,"txt":"40.95"}]},
   "mark": {"type": "text", "align": "center", "baseline": "middle", "fontSize": 6, "color": "#131722"},
   "encoding": {"x": {"field": "t", "type": "temporal", "scale": {"domain": [1587772800000, 1761782400000]}, "axis": null},
    "y": {"field": "v", "type": "quantitative", "scale": {"domain": [19, 94]}, "axis": null}, "text": {"field": "txt"}}}
 ]
},
{
 "width": 729, "height": 53,
 "layer": [
  {"data": {"name": "rfill"}, "mark": {"type": "rect", "color": "#131722"},
   "encoding": {"x": {"field": "a", "type": "temporal", "scale": {"domain": [1587772800000, 1761782400000]}, "axis": null}, "x2": {"field": "b"}}},
  {"data": {"values": [{"a": 20, "b": 80}]}, "mark": {"type": "rect", "color": "#2962ff", "opacity": 0.09},
   "encoding": {"y": {"field": "a", "type": "quantitative", "scale": {"domain": [-12, 115]},
     "axis": {"orient": "right", "values": [0, 40, 80], "format": ".2f", "grid": false, "ticks": false, "domain": false, "labelColor": "#b2b5be", "labelFontSize": 6.5, "labelFont": "Roboto", "labelPadding": 4, "labelOverlap": false, "labelFlush": false, "title": null, "zindex": 1}},
    "y2": {"field": "b"}}},
  {"data": {"values": [{"v": 80}, {"v": 50}, {"v": 20}]}, "mark": {"type": "rule", "color": "#787b86", "strokeWidth": 0.7, "strokeDash": [3, 3]},
   "encoding": {"y": {"field": "v", "type": "quantitative", "scale": {"domain": [-12, 115]}, "axis": null}}},
  {"data": {"values": "t,k,d\n2020-08-19,49,55\n2020-09-01,5,25\n2020-09-23,0,3\n2020-10-21,0,0\n2020-11-12,3,1\n2020-11-23,20,8\n2020-12-07,73,40\n2020-12-24,94,80\n2021-01-12,96,95\n2021-02-09,92,94\n2021-03-08,95,93\n2021-03-28,96,95\n2021-04-10,73,85\n2021-04-24,37,55\n2021-05-11,8,22\n2021-05-30,0,4\n2021-06-26,2,1\n2021-07-16,20,10\n2021-08-01,49,35\n2021-08-21,96,75\n2021-09-09,92,94\n2021-10-01,80,86\n2021-10-15,73,76\n2021-11-03,85,79\n2021-11-20,90,88\n2021-12-09,59,75\n2021-12-29,26,42\n2022-01-14,5,15\n2022-02-16,0,2\n2022-03-15,10,5\n2022-03-30,26,18\n2022-04-12,5,15\n2022-05-10,0,2\n2022-06-07,0,0\n2022-06-26,20,8\n2022-07-18,60,40\n2022-08-07,92,78\n2022-08-23,96,94\n2022-09-12,85,90\n2022-10-01,59,72\n2022-10-18,42,50\n2022-11-06,20,30\n2022-11-25,5,12\n2022-12-12,0,3\n2022-12-31,10,5\n2023-01-20,60,35\n2023-02-05,96,80\n2023-02-24,92,94\n2023-03-16,59,75\n2023-04-01,66,62\n2023-04-21,59,62\n2023-05-10,15,35\n2023-06-01,5,10\n2023-06-15,19,12\n2023-07-04,70,45\n2023-07-21,96,85\n2023-08-01,85,90\n2023-08-18,59,72\n2023-09-07,5,28\n2023-09-26,30,18\n2023-10-12,70,50\n2023-10-31,100,88\n2023-11-20,92,96\n2023-12-17,70,80\n2024-01-03,35,52\n2024-01-22,5,18\n2024-02-10,40,22\n2024-03-03,89,66\n2024-03-17,80,85\n2024-04-05,40,60\n2024-04-22,5,22\n2024-05-25,2,4\n2024-06-22,10,6\n2024-07-14,47,30\n2024-08-02,20,34\n2024-08-21,59,40\n2024-09-18,89,75\n2024-10-10,92,90\n2024-11-01,96,94\n2024-11-26,98,97\n2024-12-18,95,96\n2025-01-07,89,92\n2025-01-29,59,74\n2025-02-12,25,42\n2025-03-03,3,14\n2025-03-25,0,2\n2025-04-08,5,3\n2025-04-27,43.18,29.18", "format": {"type": "csv", "parse": {"t": "date", "k": "number", "d": "number"}}},
   "layer": [
    {"mark": {"type": "line", "color": "#ff6d00", "strokeWidth": 1, "interpolate": "monotone"},
     "encoding": {"x": {"field": "t", "type": "temporal", "scale": {"domain": [1587772800000, 1761782400000]}, "axis": null},
      "y": {"field": "d", "type": "quantitative", "scale": {"domain": [-12, 115]}, "axis": null}}},
    {"mark": {"type": "line", "color": "#2962ff", "strokeWidth": 1, "interpolate": "monotone"},
     "encoding": {"x": {"field": "t", "type": "temporal", "scale": {"domain": [1587772800000, 1761782400000]}, "axis": null},
      "y": {"field": "k", "type": "quantitative", "scale": {"domain": [-12, 115]}, "axis": null}}}
   ]},
  {"data": {"name": "vlines"}, "mark": {"type": "rule", "color": "#22a5b8", "strokeWidth": 1},
   "encoding": {"x": {"field": "t", "type": "temporal", "scale": {"domain": [1587772800000, 1761782400000]}, "axis": null}}},
  {"data": {"values": [{"t":"2020-05-01","v":94,"txt":"Stoch RSI (3, 3, 14, 14, close)","k":"lab"},{"t":"2020-12-22","v":94,"txt":"43.18","k":"K"},{"t":"2021-02-02","v":94,"txt":"29.18","k":"D"}]},
   "mark": {"type": "text", "align": "left", "baseline": "middle", "fontSize": 6},
   "encoding": {"x": {"field": "t", "type": "temporal", "scale": {"domain": [1587772800000, 1761782400000]}, "axis": null},
    "y": {"field": "v", "type": "quantitative", "scale": {"domain": [-12, 115]}, "axis": null}, "text": {"field": "txt"},
    "color": {"field": "k", "type": "nominal", "scale": {"domain": ["lab", "K", "D"], "range": ["#b2b5be", "#2962ff", "#ff6d00"]}, "legend": null}}}
 ]
},
{
 "width": 729, "height": 12,
 "title": {"text": "17 TradingView", "orient": "bottom", "anchor": "start", "fontSize": 7.5, "fontWeight": "bold", "color": "#d1d4dc", "font": "Roboto", "offset": 4},
 "layer": [
  {"data": {"name": "rfill"}, "mark": {"type": "rect", "color": "#131722"},
   "encoding": {"x": {"field": "a", "type": "temporal", "scale": {"domain": [1587772800000, 1761782400000]}, "axis": null}, "x2": {"field": "b"}}},
  {"data": {"values": [{"t":"2020-07-06","txt":"Jul"},{"t":"2021-07-05","txt":"Jul"},{"t":"2022-07-04","txt":"Jul"},{"t":"2023-01-02","txt":"2023"},{"t":"2023-07-03","txt":"Jul"},{"t":"2024-01-01","txt":"2024"},{"t":"2025-01-06","txt":"2025"}]},
   "mark": {"type": "text", "align": "center", "baseline": "middle", "fontSize": 6.3, "color": "#b2b5be"},
   "encoding": {"x": {"field": "t", "type": "temporal", "scale": {"domain": [1587772800000, 1761782400000]}, "axis": null}, "text": {"field": "txt"}}},
  {"data": {"name": "vlines"},
   "layer": [
    {"mark": {"type": "point", "shape": "M-1,-0.26L1,-0.26L1,0.26L-1,0.26Z", "size": 1936, "filled": true, "color": "#22b8cf", "opacity": 1},
     "encoding": {"x": {"field": "t", "type": "temporal", "scale": {"domain": [1587772800000, 1761782400000]}, "axis": null}}},
    {"mark": {"type": "text", "align": "center", "baseline": "middle", "fontSize": 6, "color": "#10141c"},
     "encoding": {"x": {"field": "t", "type": "temporal", "scale": {"domain": [1587772800000, 1761782400000]}, "axis": null}, "text": {"field": "txt"}}}
   ]}
 ]
}
]
}
